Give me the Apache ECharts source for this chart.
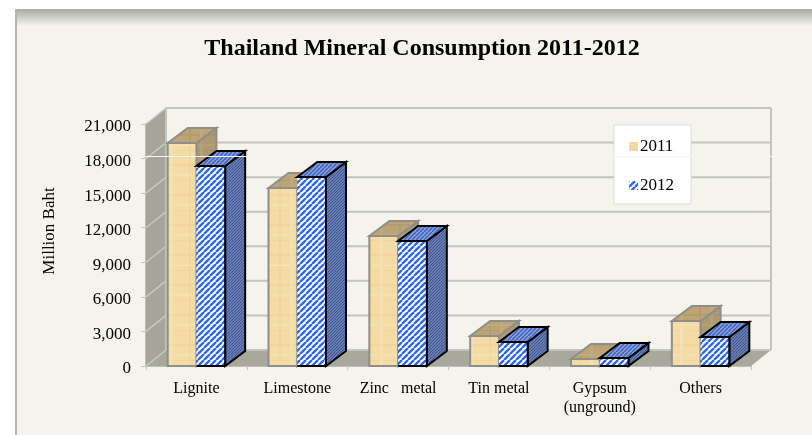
<!DOCTYPE html>
<html><head><meta charset="utf-8">
<style>html,body{margin:0;padding:0;background:#fff}#c{width:812px;height:435px}</style>
<script src="https://cdn.jsdelivr.net/npm/echarts@6/dist/echarts.min.js"></script>
</head><body><div id="c"></div>
<script>
const categories = ['Lignite','Limestone','Zinc   metal','Tin metal','Gypsum\n(unground)','Others'];
const values2011 = [19350,15450,11280,2600,610,3900];
const values2012 = [17350,16400,10850,2080,695,2520];
const yTicks = [0,3000,6000,9000,12000,15000,18000,21000];

const serif = '"Liberation Serif","Times New Roman",serif';
const WALL = [20,-16], BAR = [20,-15];

function pat(w,h,draw){const c=document.createElement('canvas');c.width=w;c.height=h;draw(c.getContext('2d'),w,h);
  return {image:c,repeat:'repeat'};}
function hatch(bg,fg,lw,step){return pat(step,step,(g,w,h)=>{g.fillStyle=bg;g.fillRect(0,0,w,h);g.strokeStyle=fg;g.lineWidth=lw;
  g.beginPath();for(let i=-w;i<=2*w;i+=step){g.moveTo(i,h);g.lineTo(i+w,0);}g.stroke();});}
function wood(c1,c2,c3){return pat(30,30,(g)=>{g.fillStyle=c1;g.fillRect(0,0,30,30);g.fillStyle=c2;g.fillRect(0,0,30,1);g.fillRect(0,14,30,2);
  g.fillRect(9,0,2,30);g.fillStyle=c3;g.fillRect(20,0,3,30);g.fillRect(0,24,30,2);});}

const woodFront = wood('#f5dca6','#f1d59c','#f7e0af');
const woodTop = wood('#bda476','#b59c6e','#c3aa7c');
const woodSide = wood('#ae9a72','#a8946c','#b39f78');
const blueFront = hatch('#ffffff','#2f68f0',2.4,6);
const blueTop = hatch('#8aa3dc','#3f62b8',1.5,4);
const blueSide = hatch('#7488bd','#3f5592',1.1,3);

function barItem(offset,skin,lineColor,openLeft){
  return function(params,api){
    const cat=api.value(0), v=api.value(1);
    const band=api.size([1,0])[0], w=band*0.285;
    const c0=api.coord([cat,0]), c1=api.coord([cat,v]);
    const xl=c0[0]-w+offset*w, xr=xl+w, yb=c0[1], yt=c1[1];
    const [dx,dy]=BAR;
    const st=(fill)=>({fill,stroke:lineColor,lineWidth:2,lineJoin:'miter'});
    const frontEdge=openLeft?
      {type:'polyline',shape:{points:[[xl,yt],[xr,yt],[xr,yb],[xl,yb]]},style:{fill:null,stroke:lineColor,lineWidth:2}}:
      {type:'rect',shape:{x:xl,y:yt,width:w,height:yb-yt},style:{fill:null,stroke:lineColor,lineWidth:2}};
    return {type:'group',children:[
      {type:'polygon',shape:{points:[[xr,yt],[xr+dx,yt+dy],[xr+dx,yb+dy],[xr,yb]]},style:st(skin.side)},
      {type:'polygon',shape:{points:[[xl,yt],[xl+dx,yt+dy],[xr+dx,yt+dy],[xr,yt]]},style:st(skin.top)},
      {type:'rect',shape:{x:xl,y:yt,width:w,height:yb-yt},style:{fill:skin.front}},
      frontEdge
    ]};
  };
}
function wallItem(params,api){
  const v=api.value(0), p=api.coord([0,v]);
  const left=p[0]-api.size([1,0])[0]*0.5, y=p[1];
  const right=left+api.size([1,0])[0]*6;
  const line={stroke:'#c3c3c0',lineWidth:2,fill:null};
  return {type:'group',children:[
    {type:'line',shape:{x1:left+WALL[0],y1:y+WALL[1],x2:right+WALL[0],y2:y+WALL[1]},style:line},
    {type:'line',shape:{x1:left,y1:y,x2:left+WALL[0],y2:y+WALL[1]},style:{stroke:'#c8c8c4',lineWidth:1.5}}
  ]};
}
function shellItem(params,api){
  const band=api.size([1,0])[0];
  const b=api.coord([0,0]), t=api.coord([0,yTicks[yTicks.length-1]]);
  const l=b[0]-band*0.5, r=l+band*6, [dx,dy]=WALL;
  return {type:'group',children:[
    {type:'polygon',shape:{points:[[l,b[1]],[l+dx,b[1]+dy],[l+dx,t[1]+dy],[l,t[1]]]},style:{fill:'#a5a59c'}},
    {type:'polygon',shape:{points:[[l,b[1]],[l+dx,b[1]+dy],[r+dx,b[1]+dy],[r,b[1]]]},style:{fill:'#a9a89c'}},
    {type:'line',shape:{x1:l+dx,y1:t[1]+dy,x2:l+dx,y2:b[1]+dy},style:{stroke:'#c3c3c0',lineWidth:2}},
    {type:'line',shape:{x1:r+dx,y1:t[1]+dy,x2:r+dx,y2:b[1]+dy},style:{stroke:'#c3c3c0',lineWidth:2}}
  ]};
}

const chart=echarts.init(document.getElementById('c'),null,{renderer:'canvas'});
chart.setOption({
  animation:false,
  backgroundColor:'#ffffff',
  title:{text:'Thailand Mineral Consumption 2011-2012',left:417,top:32,textAlign:'center',
    textStyle:{fontFamily:serif,fontSize:24,fontWeight:'bold',color:'#000'}},
  graphic:[
    {type:'rect',z:-10,silent:true,shape:{x:15,y:9,width:797,height:426},style:{fill:'#f4f3ec'}},
    {type:'rect',z:-9,silent:true,shape:{x:15,y:9,width:797,height:17},
      style:{fill:{type:'linear',x:0,y:0,x2:0,y2:1,colorStops:[{offset:0,color:'#a9a9a5'},{offset:1,color:'#f4f3ec'}]}}},
    {type:'rect',z:-9,silent:true,shape:{x:15,y:9,width:2,height:426},style:{fill:'#b4b4b0'}},
    {type:'line',z:50,silent:true,shape:{x1:145,y1:156.5,x2:772,y2:156.5},style:{stroke:'#f6f6f2',lineWidth:1}}
  ],
  legend:{orient:'vertical',left:614,top:125,padding:[13,17,10,15],itemGap:22,itemWidth:9,itemHeight:9,
    backgroundColor:'#ffffff',borderColor:'#dddddd',borderWidth:1,icon:'rect',z:40,
    textStyle:{fontFamily:serif,fontSize:17,color:'#000',padding:[1,0,0,-3]},
    data:['2011','2012']},
  grid:{left:146,right:61,top:124,bottom:69},
  xAxis:{type:'category',data:categories,
    axisLine:{lineStyle:{color:'#bdbdb9',width:2}},
    axisTick:{show:true,alignWithLabel:false,length:4,lineStyle:{color:'#c4c4c0'}},
    axisLabel:{fontFamily:serif,fontSize:16,color:'#000',margin:13,lineHeight:19,interval:0},
    splitLine:{show:false}},
  yAxis:{type:'value',min:0,max:21000,interval:3000,
    name:'Million Baht',nameLocation:'middle',nameGap:88,nameRotate:90,
    nameTextStyle:{fontFamily:serif,fontSize:17,color:'#000',padding:[0,0,0,28]},
    axisLine:{show:true,lineStyle:{color:'#bdbdb9',width:2}},
    axisTick:{show:true,length:5,lineStyle:{color:'#c4c4c0'}},
    axisLabel:{fontFamily:serif,fontSize:17,color:'#000',margin:15,verticalAlign:'top',lineHeight:6,
      formatter:v=>v.toLocaleString('en-US')},
    splitLine:{show:false}},
  series:[
    {type:'custom',name:'wall',z:1,silent:true,renderItem:shellItem,data:[[0]],encode:{x:0},legendHoverLink:false},
    {type:'custom',name:'grid',z:2,silent:true,renderItem:wallItem,data:yTicks.map(v=>[v]),encode:{y:0}},
    {type:'custom',name:'2011',z:3,renderItem:barItem(0,{front:woodFront,top:woodTop,side:woodSide},'#8e8e8a',false),
      itemStyle:{color:'#f6d79c'},data:values2011.map((v,i)=>[i,v]),encode:{x:0,y:1}},
    {type:'custom',name:'2012',z:4,renderItem:barItem(1,{front:blueFront,top:blueTop,side:blueSide},'#000000',true),
      itemStyle:{color:blueFront},data:values2012.map((v,i)=>[i,v]),encode:{x:0,y:1}}
  ]
});
</script></body></html>
